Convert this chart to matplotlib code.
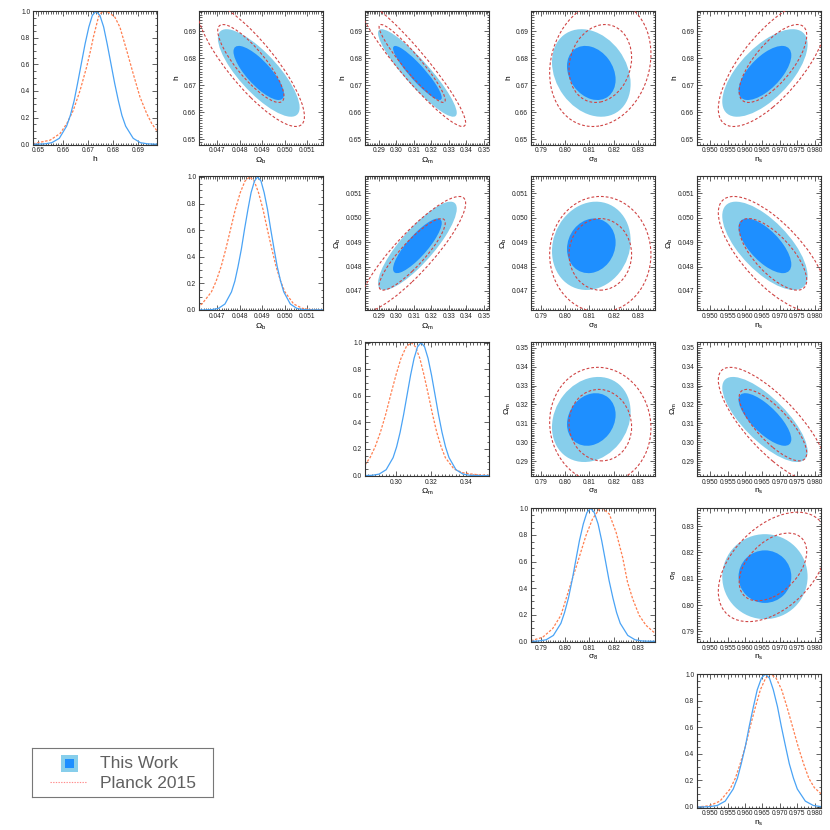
import numpy as np
import matplotlib
matplotlib.use("Agg")
import matplotlib.pyplot as plt
from matplotlib.patches import Circle, Rectangle
from matplotlib.transforms import Affine2D
from matplotlib.ticker import MultipleLocator, AutoMinorLocator, FormatStrFormatter

plt.rcParams['font.family'] = ['Liberation Sans', 'DejaVu Sans']
plt.rcParams['mathtext.default'] = 'regular'

# ---------------- data ----------------
param_labels = ['h', r'$\Omega_b$', r'$\Omega_m$', r'$\sigma_8$', r'$n_s$']
param_ranges = [(0.648, 0.6975), (0.0462, 0.0517), (0.282, 0.353), (0.786, 0.837), (0.9462, 0.9818)]
tick_steps = [0.01, 0.001, 0.01, 0.01, 0.005]
diag_tick_steps = [0.01, 0.001, 0.02, 0.01, 0.005]
tick_fmts = ['%.2f', '%.3f', '%.2f', '%.2f', '%.3f']
legend_labels = ['This Work', 'Planck 2015']

# 1D marginal curves (x, normalised probability)
tw_h_x = [0.6480, 0.6496, 0.6526, 0.6555, 0.6585, 0.6614, 0.6629, 0.6644, 0.6658, 0.6673, 0.6688, 0.6703, 0.6717,
          0.6732, 0.6747, 0.6762, 0.6776, 0.6791, 0.6806, 0.6821, 0.6835, 0.6850, 0.6880, 0.6909, 0.6939, 0.6968, 0.6975]
tw_h_y = [0.000, 0.000, 0.002, 0.011, 0.044, 0.135, 0.216, 0.325, 0.458, 0.607, 0.755, 0.882, 0.969,
          1.000, 0.969, 0.882, 0.755, 0.607, 0.458, 0.325, 0.216, 0.135, 0.044, 0.011, 0.002, 0.000, 0.000]
pl_h_x = [0.6480, 0.6548, 0.6588, 0.6615, 0.6641, 0.6668, 0.6694, 0.6708, 0.6721, 0.6741, 0.6751, 0.6761, 0.6774,
          0.6787, 0.6807, 0.6827, 0.6854, 0.6880, 0.6907, 0.6934, 0.6954, 0.6975]
pl_h_y = [0.003, 0.030, 0.080, 0.155, 0.255, 0.405, 0.580, 0.690, 0.805, 0.955, 0.985, 1.000, 0.997,
          0.985, 0.955, 0.880, 0.705, 0.530, 0.355, 0.230, 0.155, 0.100]

tw_ob_x = [0.0462, 0.04648, 0.04677, 0.04706, 0.04735, 0.04764, 0.04779, 0.04793, 0.04808, 0.04822, 0.04837, 0.04851,
           0.04866, 0.04880, 0.04895, 0.04909, 0.04924, 0.04938, 0.04953, 0.04967, 0.04982, 0.04996, 0.05025, 0.05054,
           0.05083, 0.05112, 0.0517]
tw_ob_y = [0.000, 0.000, 0.002, 0.011, 0.044, 0.135, 0.216, 0.325, 0.458, 0.607, 0.755, 0.882, 0.969,
           1.000, 0.969, 0.882, 0.755, 0.607, 0.458, 0.325, 0.216, 0.135, 0.044, 0.011, 0.002, 0.000, 0.000]
pl_ob_x = [0.04611, 0.04633, 0.04675, 0.04696, 0.04718, 0.04739, 0.04760, 0.04781, 0.04803, 0.04824, 0.04845,
           0.04865, 0.04884, 0.04904, 0.04923, 0.04943, 0.04962, 0.04982, 0.05001, 0.05040, 0.05079, 0.05118,
           0.05157, 0.0517]
pl_ob_y = [0.023, 0.044, 0.135, 0.216, 0.325, 0.458, 0.607, 0.755, 0.882, 0.969, 1.000,
           0.969, 0.882, 0.755, 0.607, 0.458, 0.325, 0.216, 0.135, 0.044, 0.011, 0.002, 0.000, 0.000]

tw_om_x = [0.2820, 0.2821, 0.2861, 0.2901, 0.2941, 0.2981, 0.3001, 0.3021, 0.3041, 0.3061, 0.3081, 0.3101, 0.3121,
           0.3141, 0.3161, 0.3181, 0.3201, 0.3221, 0.3241, 0.3261, 0.3281, 0.3301, 0.3341, 0.3381, 0.3421, 0.3461, 0.3530]
tw_om_y = [0.000, 0.000, 0.002, 0.011, 0.044, 0.135, 0.216, 0.325, 0.458, 0.607, 0.755, 0.882, 0.969,
           1.000, 0.969, 0.882, 0.755, 0.607, 0.458, 0.325, 0.216, 0.135, 0.044, 0.011, 0.002, 0.000, 0.000]
pl_om_x = [0.2820, 0.2849, 0.2878, 0.2908, 0.2938, 0.2967, 0.2997, 0.3026, 0.3056, 0.3085, 0.3109, 0.3134,
           0.3158, 0.3183, 0.3207, 0.3231, 0.3256, 0.3280, 0.3329, 0.3378, 0.3426, 0.3475, 0.3530]
pl_om_y = [0.080, 0.135, 0.216, 0.325, 0.458, 0.607, 0.755, 0.882, 0.969, 1.000, 0.969, 0.882,
           0.755, 0.607, 0.458, 0.325, 0.216, 0.135, 0.050, 0.022, 0.012, 0.005, 0.002]

tw_s8_x = [0.7860, 0.7861, 0.7891, 0.7922, 0.7952, 0.7983, 0.7998, 0.8014, 0.8029, 0.8044, 0.8059, 0.8075, 0.8090,
           0.8105, 0.8120, 0.8136, 0.8151, 0.8166, 0.8181, 0.8197, 0.8212, 0.8227, 0.8258, 0.8288, 0.8319, 0.8349, 0.8370]
tw_s8_y = [0.000, 0.000, 0.002, 0.011, 0.044, 0.135, 0.216, 0.325, 0.458, 0.607, 0.755, 0.882, 0.969,
           1.000, 0.969, 0.882, 0.755, 0.607, 0.458, 0.325, 0.216, 0.135, 0.044, 0.011, 0.002, 0.000, 0.000]
pl_s8_x = [0.7860, 0.7867, 0.7908, 0.7949, 0.7983, 0.8018, 0.8052, 0.8086, 0.8113, 0.8141, 0.8154, 0.8182,
           0.8210, 0.8237, 0.8257, 0.8278, 0.8305, 0.8333, 0.8364, 0.8370]
pl_s8_y = [0.005, 0.008, 0.030, 0.095, 0.195, 0.400, 0.595, 0.795, 0.920, 0.995, 1.000, 0.957,
           0.820, 0.630, 0.445, 0.320, 0.195, 0.120, 0.070, 0.065]

tw_ns_x = [0.9462, 0.9474, 0.9497, 0.9520, 0.9543, 0.9566, 0.9578, 0.9589, 0.9601, 0.9612, 0.9624, 0.9635, 0.9647,
           0.9658, 0.9670, 0.9681, 0.9693, 0.9704, 0.9716, 0.9727, 0.9739, 0.9750, 0.9773, 0.9796, 0.9819, 0.9842, 0.9850]
tw_ns_y = [0.000, 0.000, 0.002, 0.011, 0.044, 0.135, 0.216, 0.325, 0.458, 0.607, 0.755, 0.882, 0.969,
           1.000, 0.969, 0.882, 0.755, 0.607, 0.458, 0.325, 0.216, 0.135, 0.044, 0.011, 0.002, 0.000, 0.000]
pl_ns_x = [0.9462, 0.9485, 0.9499, 0.9528, 0.9557, 0.9572, 0.9586, 0.9601, 0.9615, 0.9630, 0.9644, 0.9659,
           0.9673, 0.9689, 0.9705, 0.9720, 0.9736, 0.9752, 0.9768, 0.9783, 0.9799, 0.9818]
pl_ns_y = [0.001, 0.005, 0.011, 0.044, 0.135, 0.216, 0.325, 0.458, 0.607, 0.755, 0.882, 0.969,
           1.000, 0.969, 0.882, 0.755, 0.607, 0.458, 0.325, 0.216, 0.145, 0.100]

tw_1d = [(tw_h_x, tw_h_y), (tw_ob_x, tw_ob_y), (tw_om_x, tw_om_y), (tw_s8_x, tw_s8_y), (tw_ns_x, tw_ns_y)]
pl_1d = [(pl_h_x, pl_h_y), (pl_ob_x, pl_ob_y), (pl_om_x, pl_om_y), (pl_s8_x, pl_s8_y), (pl_ns_x, pl_ns_y)]

# 2D contour summaries (centre, width, correlation)
tw_mean = [0.6745, 0.04885, 0.3120, 0.8108, 0.9657]
tw_sigma = [0.0066, 0.00074, 0.0092, 0.0066, 0.0050]
tw_corr = {(0, 1): -0.79, (0, 2): -0.91, (0, 3): -0.25, (0, 4): 0.65,
           (1, 2): 0.84, (1, 3): 0.12, (1, 4): -0.68,
           (2, 3): 0.18, (2, 4): -0.75, (3, 4): 0.00}
pl_mean = [0.6780, 0.04850, 0.3090, 0.8145, 0.9680]
pl_sigma = [0.0095, 0.00097, 0.0125, 0.0085, 0.0064]
pl_corr = {(0, 1): -0.84, (0, 2): -0.94, (0, 3): 0.15, (0, 4): 0.72,
           (1, 2): 0.88, (1, 3): 0.00, (1, 4): -0.72,
           (2, 3): -0.05, (2, 4): -0.78, (3, 4): 0.45}
contour_levels = [2.45, 1.515]   # 95% and 68% radii

# ---------------- style ----------------
c_outer = '#87CEEB'
c_inner = '#1E8FFF'
c_tw_line = '#4aa3f5'
c_pl_line = '#ff7f50'
c_pl_cont = '#d04545'

fig = plt.figure(figsize=(8.3, 8.3), dpi=100)
FW = FH = 830.0
col_left = [33, 199, 365, 531, 697]
row_top = [10.7, 176.4, 342.1, 507.8, 673.5]
pw, ph = 124, 134


def new_ax(r, c):
    return fig.add_axes([col_left[c] / FW, 1 - (row_top[r] + ph) / FH, pw / FW, ph / FH])


def style_axes(ax):
    ax.tick_params(which='both', direction='in', top=True, right=True, labelsize=4.8,
                   width=0.5, pad=2, colors='#222222')
    ax.tick_params(which='major', length=3.5)
    ax.tick_params(which='minor', length=1.8)
    for s in ax.spines.values():
        s.set_linewidth(0.8)
        s.set_color('#333333')


def ellipse(ax, mx, my, sx, sy, rho, k, **kw):
    m = np.array([[k * sx, 0.0, mx],
                  [k * rho * sy, k * sy * np.sqrt(1 - rho ** 2), my],
                  [0.0, 0.0, 1.0]])
    p = Circle((0, 0), 1.0, transform=Affine2D(m) + ax.transData, **kw)
    ax.add_patch(p)


n = 5
for i in range(n):
    for j in range(i, n):
        ax = new_ax(i, j)
        style_axes(ax)
        ax.set_xlim(*param_ranges[j])
        if i == j:
            tx, ty = tw_1d[i]
            px_, py_ = pl_1d[i]
            ax.plot(px_, py_, color=c_pl_line, lw=0.9, ls=(0, (2.0, 1.3)))
            ax.plot(tx, ty, color=c_tw_line, lw=0.9)
            ax.set_ylim(-0.004, 1.004)
            ax.xaxis.set_major_locator(MultipleLocator(diag_tick_steps[j]))
            ax.xaxis.set_minor_locator(AutoMinorLocator(10 if j != 4 else 5))
            ax.xaxis.set_major_formatter(FormatStrFormatter(tick_fmts[j]))
            ax.yaxis.set_major_locator(MultipleLocator(0.2))
            ax.yaxis.set_minor_locator(AutoMinorLocator(4))
            ax.yaxis.set_major_formatter(FormatStrFormatter('%.1f'))
        else:
            ax.set_ylim(*param_ranges[i])
            r_tw = tw_corr[(i, j)]
            r_pl = pl_corr[(i, j)]
            ellipse(ax, tw_mean[j], tw_mean[i], tw_sigma[j], tw_sigma[i], r_tw, contour_levels[0],
                    facecolor=c_outer, edgecolor='none', zorder=1)
            ellipse(ax, tw_mean[j], tw_mean[i], tw_sigma[j], tw_sigma[i], r_tw, contour_levels[1],
                    facecolor=c_inner, edgecolor='none', zorder=2)
            for k in contour_levels:
                ellipse(ax, pl_mean[j], pl_mean[i], pl_sigma[j], pl_sigma[i], r_pl, k,
                        facecolor='none', edgecolor=c_pl_cont, lw=0.8, ls=(0, (2.5, 1.8)), zorder=3)
            ax.xaxis.set_major_locator(MultipleLocator(tick_steps[j]))
            ax.xaxis.set_minor_locator(AutoMinorLocator(10 if j != 4 else 5))
            ax.xaxis.set_major_formatter(FormatStrFormatter(tick_fmts[j]))
            ax.yaxis.set_major_locator(MultipleLocator(tick_steps[i]))
            ax.yaxis.set_minor_locator(AutoMinorLocator(10))
            ax.yaxis.set_major_formatter(FormatStrFormatter(tick_fmts[i]))
            ax.set_ylabel(param_labels[i], fontsize=6, labelpad=2)
        ax.set_xlabel(param_labels[j], fontsize=6, labelpad=1)

# ---------------- legend ----------------
lax = fig.add_axes([32 / FW, 1 - 797 / FH, 181 / FW, 49 / FH])
lax.set_xlim(0, 181)
lax.set_ylim(49, 0)
lax.set_xticks([])
lax.set_yticks([])
for s in lax.spines.values():
    s.set_linewidth(0.8)
    s.set_color('#777777')
lax.add_patch(Rectangle((29, 7), 16.7, 16.7, facecolor=c_outer, edgecolor='none'))
lax.add_patch(Rectangle((33.3, 11.2), 8.7, 8.5, facecolor=c_inner, edgecolor='none'))
lax.plot([18, 54.7], [34, 34], color='#ff8a8a', lw=0.8, ls=(0, (1.2, 1.2)))
lax.text(68, 15.5, legend_labels[0], fontsize=12.5, color='#606060', va='center', ha='left',
         family=['Liberation Sans', 'DejaVu Sans'])
lax.text(68, 35, legend_labels[1], fontsize=12.5, color='#606060', va='center', ha='left',
         family=['Liberation Sans', 'DejaVu Sans'])

fig.savefig('out.png', dpi=100)
